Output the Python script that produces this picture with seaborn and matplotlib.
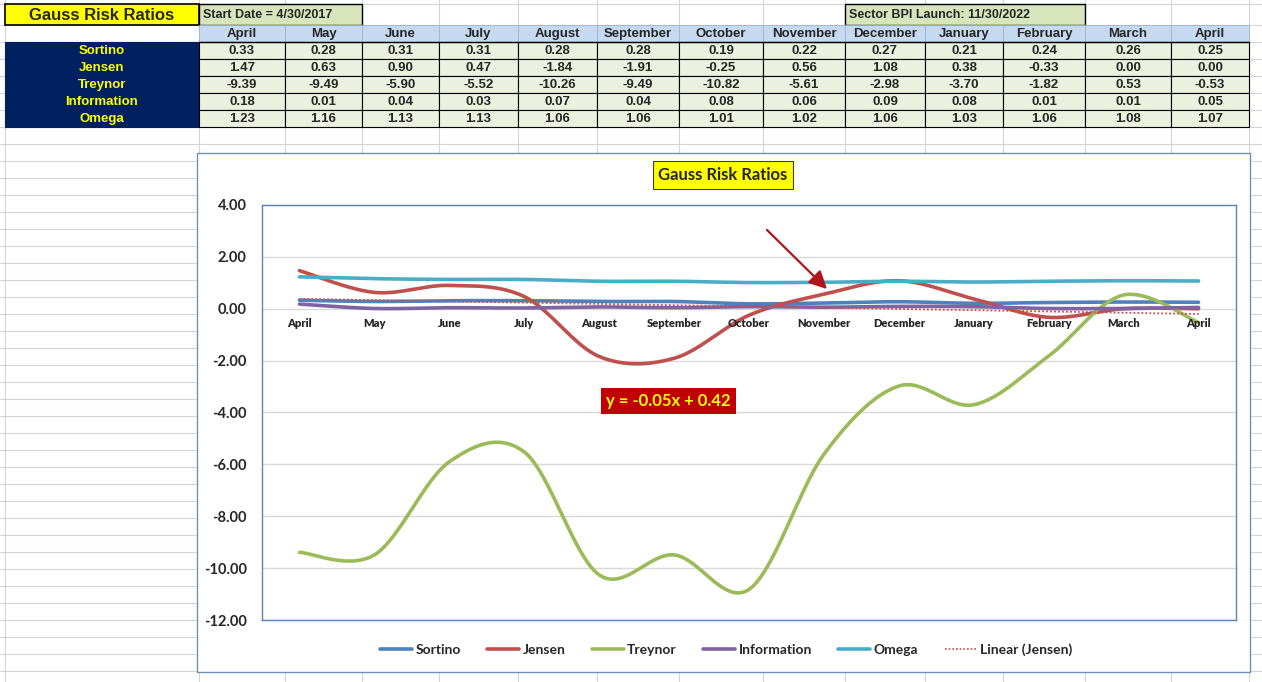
import numpy as np
import pandas as pd
import matplotlib
matplotlib.use("Agg")
import matplotlib.pyplot as plt
from matplotlib.patches import Rectangle
from matplotlib.lines import Line2D
import seaborn as sns

# ---------------- data ----------------
months = ["April", "May", "June", "July", "August", "September", "October",
          "November", "December", "January", "February", "March", "April"]
sortino = [0.33, 0.28, 0.31, 0.31, 0.28, 0.28, 0.19, 0.22, 0.27, 0.21, 0.24, 0.26, 0.25]
jensen = [1.47, 0.63, 0.90, 0.47, -1.84, -1.91, -0.25, 0.56, 1.08, 0.38, -0.33, 0.00, 0.00]
treynor = [-9.39, -9.49, -5.90, -5.52, -10.26, -9.49, -10.82, -5.61, -2.98, -3.70, -1.82, 0.53, -0.53]
information = [0.18, 0.01, 0.04, 0.03, 0.07, 0.04, 0.08, 0.06, 0.09, 0.08, 0.01, 0.01, 0.05]
omega = [1.23, 1.16, 1.13, 1.13, 1.06, 1.06, 1.01, 1.02, 1.06, 1.03, 1.06, 1.08, 1.07]
series_names = ["Sortino", "Jensen", "Treynor", "Information", "Omega"]
series_vals = [sortino, jensen, treynor, information, omega]
yticks = [4, 2, 0, -2, -4, -6, -8, -10, -12]
title = "Gauss Risk Ratios"
start_text = "Start Date = 4/30/2017"
launch_text = "Sector BPI Launch: 11/30/2022"
equation_text = "y = -0.05x + 0.42"

colors = {"Sortino": "#4F81BD", "Jensen": "#C0504D", "Treynor": "#9BBB59",
          "Information": "#8064A2", "Omega": "#4BACC6"}

W, H = 1262, 682
sns.set_theme(style="white")
plt.rcParams["font.family"] = ["Liberation Sans", "DejaVu Sans"]

fig = plt.figure(figsize=(W / 100, H / 100), dpi=100)
bg = fig.add_axes([0, 0, 1, 1], zorder=0)
bg.set_xlim(0, W)
bg.set_ylim(H, 0)
bg.axis("off")

grid_c = "#D4D4D4"
col_edges = [5, 199, 285, 362, 439, 518, 597, 679, 763, 845, 925, 1003, 1085, 1171, 1249]
for x in col_edges:
    bg.plot([x, x], [0, H], color=grid_c, lw=0.8, zorder=0)
row_edges = [4, 25] + list(range(42, H, 17))
for y in row_edges:
    bg.plot([0, W], [y, y], color=grid_c, lw=0.8, zorder=0)

def cell(x0, y0, x1, y1, fc, ec="black", lw=0.8, z=1):
    bg.add_patch(Rectangle((x0, y0), x1 - x0, y1 - y0, facecolor=fc, edgecolor=ec, lw=lw, zorder=z))

tfont = ["Liberation Sans", "DejaVu Sans"]
# title row
cell(5, 4, 199, 25, "#FFFF00", lw=1.2, z=2)
bg.text(102, 15, title, ha="center", va="center", fontsize=12, fontweight="bold", family=tfont, zorder=3)
cell(199, 4, 362, 25, "#D8E4BC", lw=1.0, z=2)
bg.text(203, 15.5, start_text, ha="left", va="center", fontsize=9, fontweight="bold", family=tfont, zorder=3)
cell(845, 4, 1085, 25, "#D8E4BC", lw=1.0, z=2)
bg.text(849, 15.5, launch_text, ha="left", va="center", fontsize=9, fontweight="bold", family=tfont, zorder=3)

# header row
hy0, hy1 = 25, 42
for i, m in enumerate(months):
    x0, x1 = col_edges[i + 1], col_edges[i + 2]
    cell(x0, hy0, x1, hy1, "#C5D9F1", ec="#9BB3D4", lw=0.6, z=2)
    bg.text((x0 + x1) / 2, 34, m, ha="center", va="center", fontsize=9.5, fontweight="bold", family=tfont, zorder=3)
bg.plot([199, 1249], [42, 42], color="black", lw=1.0, zorder=3)

# row labels + data
cell(5, 42, 199, 127, "#002060", ec="#002060", lw=0.8, z=2)
for r, (name, vals) in enumerate(zip(series_names, series_vals)):
    y0 = 42 + 17 * r
    y1 = y0 + 17
    bg.text(102, (y0 + y1) / 2 + 0.5, name, ha="center", va="center", fontsize=9.5, fontweight="bold",
            color="#FFFF00", family=tfont, zorder=3)
    for i, v in enumerate(vals):
        x0, x1 = col_edges[i + 1], col_edges[i + 2]
        cell(x0, y0, x1, y1, "#EBF1DE", ec="black", lw=0.8, z=2)
        bg.text((x0 + x1) / 2, (y0 + y1) / 2 + 0.5, f"{v:.2f}", ha="center", va="center", fontsize=9.5,
                fontweight="bold", family=tfont, zorder=3)

# chart box
cell(197, 153, 1250, 672, "white", ec="#6C93B5", lw=1.0, z=4)

# ---------------- chart ----------------
L, R, T, B = 262, 1236, 205, 620
ax = fig.add_axes([L / W, 1 - B / H, (R - L) / W, (B - T) / H], zorder=5)
ax.set_facecolor("white")

def smooth(xs, ys, n=40):
    pts = np.column_stack([xs, ys]).astype(float)
    P = np.vstack([pts[0], pts, pts[-1]])
    out = []
    t = np.linspace(0, 1, n, endpoint=False)[:, None]
    for i in range(1, len(P) - 2):
        p0, p1, p2, p3 = P[i - 1], P[i], P[i + 1], P[i + 2]
        c1 = p1 + (p2 - p0) / 6.0
        c2 = p2 - (p3 - p1) / 6.0
        b = (1 - t) ** 3 * p1 + 3 * (1 - t) ** 2 * t * c1 + 3 * (1 - t) * t ** 2 * c2 + t ** 3 * p2
        out.append(b)
    out.append(pts[-1:])
    return np.vstack(out)

xpos = np.arange(len(months)) + 0.5
frames = []
for name, vals in zip(series_names, series_vals):
    s = smooth(xpos, vals)
    frames.append(pd.DataFrame({"x": s[:, 0], "y": s[:, 1], "series": name}))
df = pd.concat(frames, ignore_index=True)

for yv in yticks:
    ax.axhline(yv, color="#D9D9D9", lw=1.0, zorder=0)

sns.lineplot(data=df, x="x", y="y", hue="series", palette=colors, hue_order=series_names,
             sort=False, estimator=None, lw=2.6, ax=ax, legend=False)

# linear trendline of Jensen
k = np.arange(1, len(months) + 1)
slope, intercept = np.polyfit(k, jensen, 1)
trend = pd.DataFrame({"x": xpos, "y": slope * k + intercept})
sns.lineplot(data=trend, x="x", y="y", color="#C0504D", lw=1.3, ls=(0, (1, 1.2)), ax=ax, legend=False)

cfont = ["Lato", "DejaVu Sans"]
ax.set_xlim(0, len(months))
ax.set_ylim(-12, 4)
ax.set_yticks(yticks)
ax.set_yticklabels([f"{v:.2f}" for v in yticks], fontsize=10.5, fontweight="bold", family=cfont)
ax.tick_params(axis="y", length=0, pad=11)
ax.set_xticks([])
ax.set_xlabel("")
ax.set_ylabel("")
for sp in ax.spines.values():
    sp.set_color("#5B84B1")
    sp.set_linewidth(1.0)

for xp, m in zip(xpos, months):
    ax.annotate(m, (xp, 0), xytext=(0, -10.5), textcoords="offset points", ha="center", va="center",
                fontsize=8, fontweight="heavy", family=cfont, zorder=6)

# title box
ax.text(723, 175, title, transform=bg.transData, ha="center", va="center", fontsize=12,
        fontweight="bold", family=cfont,
        bbox=dict(boxstyle="square,pad=0.35", fc="#FFFF00", ec="#404040", lw=0.8), clip_on=False)

# arrow
ax.annotate("", xy=(829, 291), xytext=(765, 228), xycoords=bg.transData, textcoords=bg.transData,
            arrowprops=dict(arrowstyle="-|>,head_length=0.9,head_width=0.45", color="#B0141C", lw=1.6),
            annotation_clip=False)

# equation label
ax.text(668.5, 401, equation_text, transform=bg.transData, ha="center", va="center",
        fontsize=12, fontweight="bold", color="#FFFF00", family=cfont,
        bbox=dict(boxstyle="square,pad=0.3", fc="#C00000", ec="none"), clip_on=False)

# legend
handles = [Line2D([0], [0], color=colors[n], lw=2.6) for n in series_names]
handles.append(Line2D([0], [0], color="#C0504D", lw=1.2, ls=(0, (1, 1.2))))
labels = series_names + ["Linear (Jensen)"]
fig.legend(handles, labels, loc="center", bbox_to_anchor=(726 / W, 1 - 650 / H), ncol=6,
           frameon=False, handlelength=2.3, handletextpad=0.25, columnspacing=1.9,
           prop=dict(family=cfont, weight="bold", size=10))

fig.savefig("out.png", dpi=100)
